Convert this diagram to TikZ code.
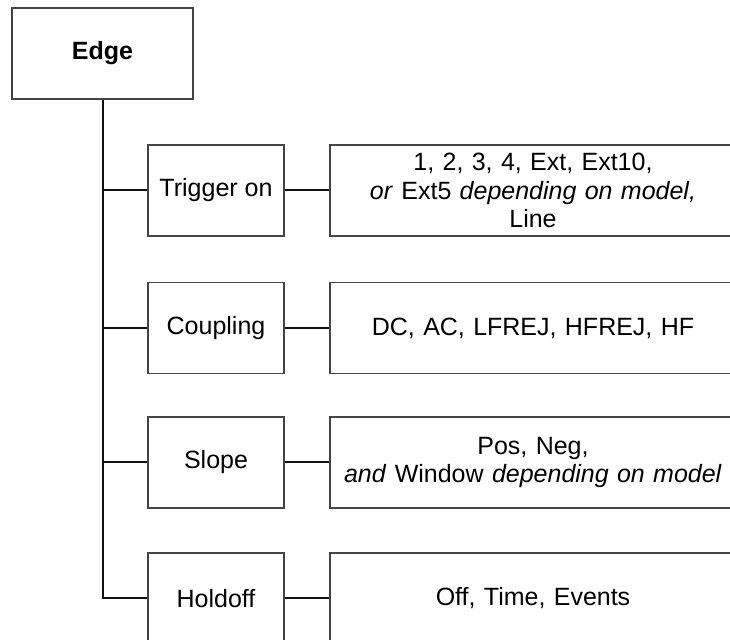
\documentclass[tikz,border=0pt]{standalone}
\usepackage{fontspec}
\setmainfont{Liberation Sans}
\usepackage{tikz}
\usetikzlibrary{positioning,calc}
\definecolor{TreeLine}{HTML}{111111}
\definecolor{TreeFrame}{HTML}{444444}

\begin{document}
\begin{tikzpicture}[
  x=0.5pt,y=-0.5pt,
  box/.style={draw=TreeFrame,line width=0.65pt,fill=white,align=center,inner sep=0pt,minimum height=45.5pt,font=\fontsize{12.5}{14.2}\selectfont},
  item/.style={box,minimum width=68pt},
  vals/.style={box,minimum width=203pt,text width=200pt},
  link/.style={draw=TreeLine,line width=1pt},
]
\useasboundingbox (0,0) rectangle (730,640);
\clip (0,0) rectangle (730,640);
% root
\node[box,minimum width=90.5pt,font=\fontsize{12.5}{14.2}\selectfont\bfseries] (edge) at (102.5,53.5) {Edge};
% settings and their values
\node[item] (trig) at (216,190.5) {Trigger on};
\node[vals] (trigv) at (533,190.5) {1, 2, 3, 4, Ext, Ext10,\\ \textit{or} Ext5 \textit{depending on model,}\\ Line};
\node[item] (coup) at (216,328) {Coupling};
\node[vals] (coupv) at (533,328) {DC, AC, LFREJ, HFREJ, HF};
\node[item] (slope) at (216,462.5) {Slope};
\node[vals] (slopev) at (533,462.5) {Pos, Neg,\\ \textit{and} Window \textit{depending on model}};
\node[item] (hold) at (216,598.5) {Holdoff};
\node[vals] (holdv) at (533,598.5) {Off, Time, Events};
% trunk
\draw[link] (edge.south) |- (hold.west);
\foreach \n in {trig,coup,slope}
  \draw[link] (edge.south |- \n.west) -- (\n.west);
\foreach \n in {trig,coup,slope,hold}
  \draw[link] (\n.east) -- (\n v.west);
\end{tikzpicture}
\end{document}
